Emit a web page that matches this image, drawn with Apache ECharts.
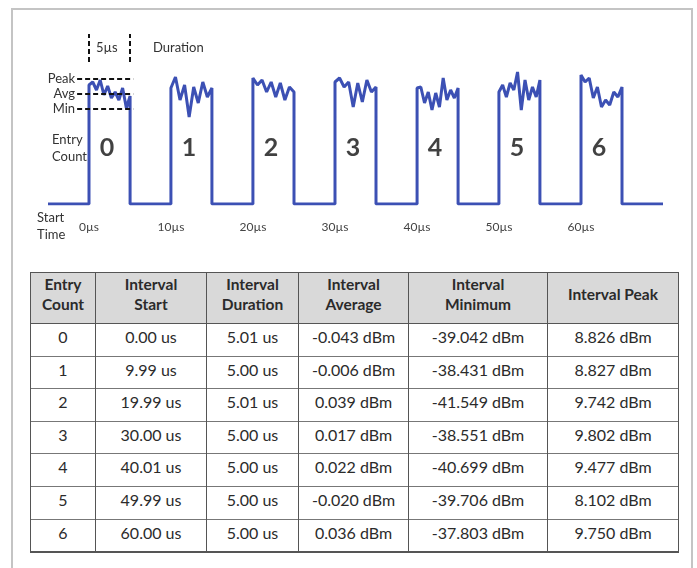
<!DOCTYPE html>
<html>
<head>
    <meta charset="utf-8">
    <title>Pulse intervals</title>
    <script type="text/javascript" src="https://cdn.jsdelivr.net/npm/echarts@6.0.0/dist/echarts.min.js"></script>
    <style>
        body { margin: 0; background: #fff; }
        #frame { position: absolute; left: 11px; top: 8px; width: 678px; height: 570px;
                 border-left: 2px solid #c4c4c4; border-top: 2px solid #c4c4c4; border-right: 2px solid #c4c4c4; }
        #main { position: absolute; left: 0; top: 0; width: 697px; height: 260px; }
        #tbl { position: absolute; left: 30px; top: 272px; border-collapse: collapse;
               font-family: Lato, "Open Sans", sans-serif; color: #2b2b2b; table-layout: fixed; }
        #tbl th { background: #d9d9d9; font-weight: bold; font-size: 15.5px; line-height: 20px; height: 42px;
                  padding: 0 0 8px 0; border: 1.5px solid #555; text-align: center; vertical-align: middle; }
        #tbl td { font-size: 16px; height: 28.6px; padding: 3px 0 0 0; text-align: center; vertical-align: top;
                  border-left: 1.5px solid #555; border-right: 1.5px solid #555; border-top: 1px solid #777; }
        #tbl tr:last-child td { border-bottom: 2px solid #555; }
    </style>
</head>
<body>
    <div id="frame"></div>
    <div id="main"></div>
    <table id="tbl"></table>

    <script type="text/javascript">
        // 表格資料
        var entryCount = [0, 1, 2, 3, 4, 5, 6];
        var intervalStart = [0.00, 9.99, 19.99, 30.00, 40.01, 49.99, 60.00];
        var intervalDuration = [5.01, 5.00, 5.01, 5.00, 5.00, 5.00, 5.00];
        var intervalAverage = [-0.043, -0.006, 0.039, 0.017, 0.022, -0.020, 0.036];
        var intervalMinimum = [-39.042, -38.431, -41.549, -38.551, -40.699, -39.706, -37.803];
        var intervalPeak = [8.826, 8.827, 9.742, 9.802, 9.477, 8.102, 9.750];
        var headers = ['Entry<br>Count', 'Interval<br>Start', 'Interval<br>Duration', 'Interval<br>Average', 'Interval<br>Minimum', 'Interval Peak'];
        var colWidths = [65, 111, 92, 110, 139, 131];

        // 波形頂部取樣 (示意圖單位)
        var pulseTops = [
            [119, 122, 114, 124, 109, 118, 106, 112, 104, 116, 96, 108],
            [116, 127, 104, 119, 87, 117, 101, 122, 107, 116],
            [126, 119, 124, 112, 122, 107, 121, 104, 117, 112],
            [122, 126, 117, 122, 97, 121, 102, 124, 112, 117],
            [116, 117, 101, 112, 94, 111, 97, 126, 104, 114, 106, 116],
            [112, 119, 107, 121, 114, 132, 94, 124, 104, 117, 107, 124],
            [129, 122, 126, 106, 117, 97, 104, 99, 112, 107, 117]
        ];
        var timeTicks = [0, 10, 20, 30, 40, 50, 60];
        var levelNames = ['Peak', 'Avg', 'Min'];
        var levelValues = [125, 110, 95];

        var wave = [[-5, 0]];
        for (var i = 0; i < entryCount.length; i++) {
            var s = intervalStart[i], e = s + intervalDuration[i], tops = pulseTops[i];
            wave.push([s, 0]);
            for (var k = 0; k < tops.length; k++) {
                wave.push([s + (e - s) * k / (tops.length - 1), tops[k]]);
            }
            wave.push([e, 0]);
        }
        wave.push([70, 0]);

        var marks = [];
        for (var i = 0; i < levelNames.length; i++) {
            marks.push([{ coord: [-1.45, levelValues[i]], name: levelNames[i] }, { coord: [5.4, levelValues[i]] }]);
        }
        marks.push([{ coord: [0, 142], name: '' }, { coord: [0, 170] }]);
        marks.push([{ coord: [5, 142], name: '' }, { coord: [5, 170] }]);

        var labels = [];
        for (var i = 0; i < entryCount.length; i++) {
            labels.push([intervalStart[i] + intervalDuration[i] / 2 - 0.3, 56, entryCount[i]]);
        }

        var font = 'Lato, "Open Sans", sans-serif';
        var myChart = echarts.init(document.getElementById('main'));
        var option = {
            animation: false,
            grid: { left: 48, right: 34, top: 24, bottom: 56 },
            xAxis: {
                type: 'value', min: -5, max: 70,
                axisLine: { show: false }, axisTick: { show: false }, splitLine: { show: false },
                axisLabel: {
                    customValues: timeTicks, formatter: '{value}µs', margin: 17,
                    color: '#444', fontSize: 12, fontFamily: font
                }
            },
            yAxis: { type: 'value', min: 0, max: 180, show: false, splitLine: { show: false } },
            series: [{
                type: 'line',
                data: wave,
                symbol: 'none',
                lineStyle: { color: '#3c50b4', width: 3 },
                markLine: {
                    silent: true,
                    symbol: 'none',
                    lineStyle: { color: '#111', type: [5, 3], width: 2 },
                    label: { show: true, position: 'start', formatter: '{b}', color: '#333', fontSize: 13, fontFamily: font, distance: 2 },
                    data: marks
                }
            }, {
                type: 'scatter',
                data: labels,
                symbolSize: 1,
                itemStyle: { color: 'rgba(0,0,0,0)' },
                label: {
                    show: true, position: 'inside',
                    formatter: function (p) { return p.value[2]; },
                    color: '#111', fontSize: 25, fontWeight: 'bold', fontFamily: font
                }
            }],
            graphic: [
                { type: 'text', left: 96, top: 41, style: { text: '5µs', fill: '#333', font: '13px ' + font } },
                { type: 'text', left: 153, top: 41, style: { text: 'Duration', fill: '#333', font: '13px ' + font } },
                { type: 'text', left: 52, top: 131, style: { text: 'Entry\nCount', fill: '#333', align: 'center', lineHeight: 17, font: '13px ' + font } },
                { type: 'text', left: 37, top: 209, style: { text: 'Start\nTime', fill: '#333', lineHeight: 17, font: '13px ' + font } }
            ]
        };
        myChart.setOption(option);

        // 表格
        var tbl = document.getElementById('tbl');
        var html = '<colgroup>';
        for (var c = 0; c < colWidths.length; c++) html += '<col style="width:' + colWidths[c] + 'px">';
        html += '</colgroup><tr>';
        for (var c = 0; c < headers.length; c++) html += '<th>' + headers[c] + '</th>';
        html += '</tr>';
        for (var i = 0; i < entryCount.length; i++) {
            html += '<tr><td>' + entryCount[i] + '</td>'
                + '<td>' + intervalStart[i].toFixed(2) + ' us</td>'
                + '<td>' + intervalDuration[i].toFixed(2) + ' us</td>'
                + '<td>' + intervalAverage[i].toFixed(3) + ' dBm</td>'
                + '<td>' + intervalMinimum[i].toFixed(3) + ' dBm</td>'
                + '<td>' + intervalPeak[i].toFixed(3) + ' dBm</td></tr>';
        }
        tbl.innerHTML = html;
    </script>
</body>
</html>
